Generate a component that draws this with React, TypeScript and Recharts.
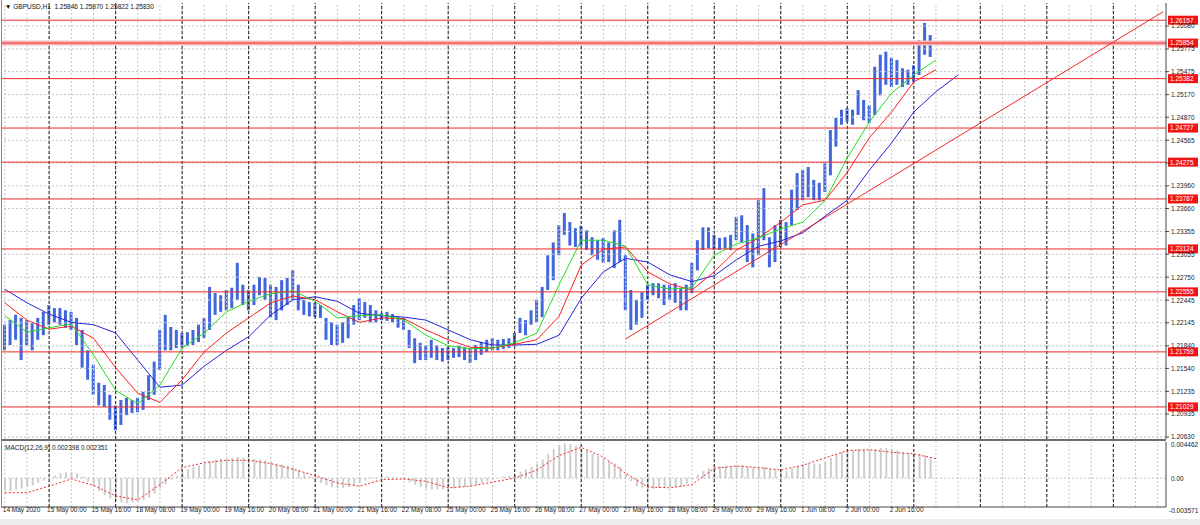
import React from 'react';
import { ComposedChart, Bar, Line, XAxis, YAxis, ReferenceLine } from 'recharts';

// H1 GBPUSD, one entry per 2-hour slot starting 14 May 2020 08:00
const barHighs = [
  1.2212, 1.2218, 1.2225, 1.2221, 1.2218, 1.2214, 1.2221, 1.2229, 1.2238, 1.2234,
  1.2234, 1.2231, 1.2229, 1.2221, 1.2205, 1.2178, 1.2159, 1.2135, 1.2132, 1.2119,
  1.2105, 1.2112, 1.2115, 1.2112, 1.2115, 1.2123, 1.2145, 1.2163, 1.2205, 1.2225,
  1.2209, 1.2205, 1.2201, 1.2202, 1.2205, 1.2212, 1.2221, 1.2262, 1.2254, 1.2251,
  1.2258, 1.2261, 1.2294, 1.2265, 1.2258, 1.2265, 1.2275, 1.2274, 1.2265, 1.2262,
  1.2271, 1.2274, 1.2284, 1.2265, 1.2245, 1.2242, 1.2241, 1.2238, 1.2221, 1.2215,
  1.2212, 1.2215, 1.2222, 1.2238, 1.2247, 1.2242, 1.2238, 1.2231, 1.2227, 1.2229,
  1.2226, 1.2222, 1.2221, 1.2205, 1.2194, 1.2188, 1.2185, 1.2192, 1.2185, 1.2181,
  1.2182, 1.2181, 1.2184, 1.2182, 1.2181, 1.2185, 1.2189, 1.2192, 1.2194, 1.2192,
  1.2193, 1.2194, 1.2201, 1.2221, 1.2218, 1.2231, 1.2245, 1.2262, 1.2304, 1.2321,
  1.2344, 1.2360, 1.2348, 1.2340, 1.2343, 1.2337, 1.2328, 1.2324, 1.2327, 1.2321,
  1.2337, 1.2351, 1.2304, 1.2258, 1.2245, 1.2255, 1.2265, 1.2267, 1.2267, 1.2265,
  1.2265, 1.2267, 1.2261, 1.2265, 1.2294, 1.2324, 1.2341, 1.2341, 1.2331, 1.2327,
  1.2328, 1.2331, 1.2355, 1.2357, 1.2344, 1.2333, 1.2377, 1.2393, 1.2328, 1.2344,
  1.2351, 1.2348, 1.2391, 1.2413, 1.2417, 1.2421, 1.2404, 1.2400, 1.2426, 1.2470,
  1.2486, 1.2497, 1.2499, 1.2497, 1.2523, 1.2510, 1.2503, 1.2554, 1.2570, 1.2574,
  1.2566, 1.2563, 1.2552, 1.2550, 1.2556, 1.2589, 1.2612, 1.2596,
];

const barLows = [
  1.2178, 1.2185, 1.2192, 1.2165, 1.2185, 1.2178, 1.2192, 1.2198, 1.2212, 1.2215,
  1.2212, 1.2208, 1.2205, 1.2185, 1.2155, 1.2139, 1.2119, 1.2105, 1.2103, 1.2086,
  1.2072, 1.2079, 1.2092, 1.2095, 1.2096, 1.2099, 1.2112, 1.2119, 1.2152, 1.2178,
  1.2178, 1.2181, 1.2182, 1.2184, 1.2185, 1.2189, 1.2194, 1.2205, 1.2225, 1.2229,
  1.2231, 1.2234, 1.2245, 1.2238, 1.2231, 1.2238, 1.2251, 1.2245, 1.2222, 1.2218,
  1.2231, 1.2238, 1.2245, 1.2231, 1.2225, 1.2223, 1.2222, 1.2221, 1.2192, 1.2185,
  1.2185, 1.2188, 1.2194, 1.2212, 1.2218, 1.2221, 1.2215, 1.2215, 1.2218, 1.2217,
  1.2215, 1.2208, 1.2205, 1.2181, 1.2161, 1.2165, 1.2165, 1.2168, 1.2165, 1.2163,
  1.2165, 1.2168, 1.2169, 1.2165, 1.2161, 1.2165, 1.2172, 1.2176, 1.2178, 1.2178,
  1.2180, 1.2181, 1.2185, 1.2201, 1.2198, 1.2212, 1.2215, 1.2222, 1.2258, 1.2271,
  1.2304, 1.2331, 1.2317, 1.2315, 1.2316, 1.2311, 1.2304, 1.2298, 1.2294, 1.2295,
  1.2287, 1.2295, 1.2231, 1.2205, 1.2212, 1.2221, 1.2245, 1.2251, 1.2247, 1.2238,
  1.2245, 1.2241, 1.2231, 1.2231, 1.2254, 1.2284, 1.2311, 1.2313, 1.2311, 1.2311,
  1.2313, 1.2311, 1.2324, 1.2321, 1.2295, 1.2288, 1.2304, 1.2324, 1.2288, 1.2295,
  1.2315, 1.2317, 1.2344, 1.2364, 1.2377, 1.2381, 1.2377, 1.2377, 1.2388, 1.2410,
  1.2448, 1.2477, 1.2481, 1.2477, 1.2490, 1.2483, 1.2479, 1.2490, 1.2516, 1.2530,
  1.2527, 1.2530, 1.2527, 1.2530, 1.2534, 1.2543, 1.2570, 1.2567,
];

// moving averages, one value every 4 slots
const lipsLine = [
  1.2224, 1.2202, 1.2208, 1.2213, 1.2172, 1.2125, 1.2107, 1.2132, 1.2181, 1.2201,
  1.2229, 1.2243, 1.2253, 1.2257, 1.2243, 1.2221, 1.2224, 1.2225, 1.2218, 1.2198,
  1.2184, 1.2180, 1.2181, 1.2188, 1.2201, 1.2265, 1.2324, 1.2324, 1.2316, 1.2265,
  1.2259, 1.2261, 1.2304, 1.2319, 1.2327, 1.2339, 1.2348, 1.2377, 1.2433, 1.2481,
  1.2519, 1.2543, 1.2563,
];
const teethLine = [
  1.2241, 1.2218, 1.2206, 1.2210, 1.2194, 1.2155, 1.2121, 1.2109, 1.2139, 1.2176,
  1.2201, 1.2221, 1.2241, 1.2250, 1.2245, 1.2229, 1.2215, 1.2221, 1.2220, 1.2205,
  1.2192, 1.2182, 1.2181, 1.2186, 1.2192, 1.2223, 1.2291, 1.2312, 1.2315, 1.2282,
  1.2266, 1.2258, 1.2282, 1.2311, 1.2327, 1.2348, 1.2371, 1.2377, 1.2414, 1.2460,
  1.2494, 1.2534, 1.2550,
];
const jawLine = [
  1.2259, 1.2241, 1.2226, 1.2215, 1.2212, 1.2201, 1.2165, 1.2129, 1.2132, 1.2157,
  1.2178, 1.2196, 1.2225, 1.2245, 1.2249, 1.2243, 1.2227, 1.2224, 1.2222, 1.2218,
  1.2205, 1.2192, 1.2185, 1.2185, 1.2186, 1.2198, 1.2247, 1.2282, 1.2300, 1.2295,
  1.2278, 1.2269, 1.2277, 1.2298, 1.2316, 1.2323, 1.2334, 1.2356, 1.2377, 1.2417,
  1.2453, 1.2494, 1.2521, 1.2543,
];

// MACD(12,26,9): main per slot, signal every 4 slots
const macdMain = [
  -0.0015, -0.0016, -0.0014, -0.0013, -0.0011, -0.0009, -0.0006, -0.0003,
  0.0000, 0.0003, 0.0006, 0.0007, 0.0008, 0.0006, 0.0002, -0.0004, -0.0010,
  -0.0016, -0.0021, -0.0025, -0.0028, -0.0030, -0.0031, -0.0030, -0.0029, -0.0027, -0.0024, -0.0019, -0.0013, -0.0007, -0.0002,
  0.0003, 0.0008, 0.0011, 0.0014, 0.0016, 0.0018, 0.0021, 0.0023, 0.0024, 0.0025, 0.0025, 0.0026, 0.0025, 0.0024, 0.0024, 0.0023, 0.0022, 0.0020, 0.0018, 0.0017, 0.0016, 0.0013,
  0.0010, 0.0006, 0.0002, -0.0002, -0.0006, -0.0009, -0.0011, -0.0012, -0.0012, -0.0011, -0.0009, -0.0006, -0.0003,
  -0.0001, 0.0001, 0.0002, 0.0002, 0.0001, 0.0000, -0.0002, -0.0005,
  -0.0008, -0.0011, -0.0013, -0.0014, -0.0014, -0.0014, -0.0013, -0.0013, -0.0012, -0.0011, -0.0010, -0.0008, -0.0006, -0.0004, -0.0002,
  0.0000, 0.0002, 0.0003, 0.0005, 0.0008, 0.0011, 0.0014, 0.0018,
  0.0023, 0.0030, 0.0036, 0.0041, 0.0043, 0.0042, 0.0040, 0.0037,
  0.0034, 0.0030, 0.0027, 0.0024, 0.0021, 0.0018, 0.0014, 0.0006,
  -0.0004, -0.0010, -0.0012, -0.0013, -0.0013, -0.0012, -0.0012, -0.0011, -0.0011, -0.0010, -0.0007, -0.0002,
  0.0004, 0.0009, 0.0012, 0.0014, 0.0015, 0.0015, 0.0015, 0.0016, 0.0016, 0.0014, 0.0013, 0.0013, 0.0014, 0.0011, 0.0010, 0.0010, 0.0009,
  0.0012, 0.0015, 0.0017, 0.0018, 0.0018, 0.0018, 0.0020, 0.0025, 0.0029, 0.0032, 0.0033, 0.0034, 0.0036, 0.0036, 0.0035, 0.0036, 0.0037,
  0.0037, 0.0036, 0.0034, 0.0032, 0.0031, 0.0030, 0.0030, 0.0028, 0.0024,
];
const macdSignal = [
  -0.0018, -0.0018, -0.0010, -0.0001, -0.0009, -0.0022, -0.0027, -0.0008, 0.0013, 0.0019,
  0.0022, 0.0022, 0.0018, 0.0011, 0.0003, -0.0006, -0.0010, -0.0002, -0.0001, -0.0004,
  -0.0012, -0.0010, -0.0005, 0.0000, 0.0010, 0.0028, 0.0038, 0.0026, 0.0006, -0.0011,
  -0.0012, -0.0008, 0.0012, 0.0015, 0.0013, 0.0010, 0.0016, 0.0025, 0.0034, 0.0035,
  0.0032, 0.0030, 0.0024,
];

const levelPrices = [1.26157, 1.25854, 1.25382, 1.24727, 1.24275, 1.23787, 1.23124, 1.22555, 1.21759, 1.21029];
const selectedLevel = 1.25854;

const priceTicks = [
  1.2063, 1.20935, 1.21235, 1.2154, 1.2184, 1.22145, 1.22445, 1.2275, 1.23055, 1.23355,
  1.2366, 1.2396, 1.24265, 1.24565, 1.2487, 1.2517, 1.25475, 1.25775, 1.2608,
];
const macdTicks = [-0.003571, 0, 0.004462];

const timeLabels = [
  '14 May 2020', '15 May 00:00', '15 May 16:00', '18 May 08:00', '19 May 00:00', '19 May 16:00',
  '20 May 08:00', '21 May 00:00', '21 May 16:00', '22 May 08:00', '25 May 00:00', '25 May 16:00',
  '26 May 08:00', '27 May 00:00', '27 May 16:00', '28 May 08:00', '29 May 00:00', '29 May 16:00',
  '1 Jun 08:00', '2 Jun 00:00', '2 Jun 16:00',
];
// slots where a new trading day starts (period separators)
const dayStarts = [8, 20, 32, 44, 56, 68, 80, 92, 104, 116, 128, 140, 152, 164, 176, 188, 200];
const trendFrom = { slot: 112, price: 1.2193 };
const trendTo = { slot: 209, price: 1.2627 };

const TOTAL_SLOTS = 210;
const MA_STEP = 4;
const LABEL_STEP = 8;
const FONT = "'Liberation Sans', Arial, sans-serif";

const rows = Array.from({ length: TOTAL_SLOTS }, (_, i) => ({
  slot: i,
  range: i < barHighs.length ? [barLows[i], barHighs[i]] : null,
  lips: i % MA_STEP === 0 ? lipsLine[i / MA_STEP] : undefined,
  teeth: i % MA_STEP === 0 ? teethLine[i / MA_STEP] : undefined,
  jaw: i % MA_STEP === 0 ? jawLine[i / MA_STEP] : undefined,
  macd: i < macdMain.length ? macdMain[i] : null,
  signal: i % MA_STEP === 0 ? macdSignal[i / MA_STEP] : undefined,
}));

const gridSlots = rows.filter((r) => r.slot % MA_STEP === 0).map((r) => r.slot);
const labelSlots = timeLabels.map((_, k) => k * LABEL_STEP);

const PriceTag = (props: any) => {
  const { viewBox, tagText } = props;
  if (!viewBox) return null;
  const x = viewBox.x + viewBox.width;
  const y = viewBox.y;
  return (
    <g>
      <rect x={x + 2} y={y - 4.5} width={30} height={9} fill="#f01414" />
      <text x={x + 4} y={y + 2.4} fontSize={6.5} fill="#fff" fontFamily={FONT}>{tagText}</text>
    </g>
  );
};

const PriceTick = (props: any) => {
  const { x, y, payload } = props;
  // labels sitting right under a level tag are hidden by it in the terminal
  const covered = levelPrices.some((p) => Math.abs(p - payload.value) < 0.0003);
  return (
    <g>
      <line x1={x - 3} x2={x} y1={y} y2={y} stroke="#444" />
      {!covered && (
        <text x={x + 2} y={y + 2.4} fontSize={6.5} fill="#222" fontFamily={FONT}>
          {payload.value.toFixed(5)}
        </text>
      )}
    </g>
  );
};

const MacdTick = (props: any) => {
  const { x, y, payload } = props;
  const v = payload.value;
  const dy = v > 0 ? 5 : v < 0 ? 6 : 2.4;
  return (
    <text x={x + (v < 0 ? 0 : 2)} y={y + dy} fontSize={6.5} fill="#222" fontFamily={FONT}>
      {v === 0 ? '0.00' : v.toFixed(6)}
    </text>
  );
};

const TimeTick = (props: any) => {
  const { x, y, payload } = props;
  return (
    <text x={x - 2} y={y + 1.5} fontSize={6.5} fill="#222" fontFamily={FONT}>
      {timeLabels[payload.value / LABEL_STEP]}
    </text>
  );
};

const gridLines = () => [
  ...gridSlots.map((s) => (
    <ReferenceLine key={'g' + s} x={s} stroke="#c4c4c4" strokeDasharray="2 2" />
  )),
  ...dayStarts.map((s) => (
    <ReferenceLine key={'d' + s} x={s} stroke="#1a1a1a" strokeDasharray="3 2" />
  )),
];

const App: React.FC = () => {
  return (
    <div style={{ position: 'absolute', left: 0, top: 0, width: 1200, height: 525, background: '#fff', fontFamily: FONT }}>
      {/* Price panel */}
      <div style={{ position: 'absolute', left: 0, top: 0 }}>
        <ComposedChart width={1200} height={441} data={rows} margin={{ top: 3, right: 0, bottom: 2, left: 2 }}>
          <XAxis dataKey="slot" type="category" hide />
          <YAxis
            orientation="right"
            width={34}
            domain={[1.20604, 1.26385]}
            allowDataOverflow
            ticks={priceTicks}
            interval={0}
            tick={<PriceTick />}
            tickSize={3}
            tickMargin={0}
            tickLine={false}
            axisLine={{ stroke: '#444' }}
          />
          {priceTicks.map((t) => (
            <ReferenceLine key={'h' + t} y={t} stroke="#c4c4c4" strokeDasharray="2 2" />
          ))}
          {gridLines()}
          <Bar dataKey="range" fill="#4267dc" barSize={3} isAnimationActive={false} />
          <Line dataKey="jaw" stroke="#2424d8" dot={false} strokeWidth={1} connectNulls isAnimationActive={false} />
          <Line dataKey="teeth" stroke="#ff1e1e" dot={false} strokeWidth={1} connectNulls isAnimationActive={false} />
          <Line dataKey="lips" stroke="#22dd22" dot={false} strokeWidth={1} connectNulls isAnimationActive={false} />
          <ReferenceLine y={selectedLevel} stroke="#f5b8b8" strokeWidth={5} />
          {levelPrices.map((p) => (
            <ReferenceLine
              key={'l' + p}
              y={p}
              stroke="#f02828"
              strokeWidth={1}
              label={<PriceTag tagText={p.toFixed(5)} />}
            />
          ))}
          <ReferenceLine
            segment={[{ x: trendFrom.slot, y: trendFrom.price }, { x: trendTo.slot, y: trendTo.price }]}
            stroke="#f02828"
            strokeWidth={1}
          />
        </ComposedChart>
      </div>

      {/* MACD panel */}
      <div style={{ position: 'absolute', left: 0, top: 441 }}>
        <ComposedChart width={1200} height={77} data={rows} margin={{ top: 1, right: 0, bottom: 0, left: 2 }}>
          <XAxis
            dataKey="slot"
            type="category"
            height={11}
            ticks={labelSlots}
            interval={0}
            tick={<TimeTick />}
            tickSize={3}
            tickMargin={0}
            tickLine={false}
            axisLine={{ stroke: '#444' }}
          />
          <YAxis
            orientation="right"
            width={34}
            domain={[-0.003571, 0.004462]}
            allowDataOverflow
            ticks={macdTicks}
            interval={0}
            tick={<MacdTick />}
            tickSize={3}
            tickMargin={0}
            tickLine={false}
            axisLine={{ stroke: '#444' }}
          />
          <ReferenceLine y={0} stroke="#c4c4c4" strokeDasharray="2 2" />
          {gridLines()}
          <Bar dataKey="macd" fill="#cdcdcd" barSize={2} isAnimationActive={false} />
          <Line dataKey="signal" stroke="#f02828" strokeDasharray="2 2" dot={false} strokeWidth={1} connectNulls isAnimationActive={false} />
        </ComposedChart>
      </div>

      {/* frame and captions */}
      <div style={{ position: 'absolute', left: 2, top: 439, width: 1164, height: 2, background: '#6e6e6e' }} />
      <div style={{ position: 'absolute', left: 1, top: 0, width: 1, height: 508, background: '#8a8a8a' }} />
      <div style={{ position: 'absolute', left: 0, top: 519, width: 1200, height: 6, background: '#ececec' }} />
      <div style={{ position: 'absolute', left: 5, top: 3, fontSize: 6.5, color: '#111', whiteSpace: 'pre' }}>
        {'\u25BC GBPUSD,H1  1.25846 1.25870 1.25822 1.25830'}
      </div>
      <div style={{ position: 'absolute', left: 5, top: 444, fontSize: 6.5, color: '#222', whiteSpace: 'pre' }}>
        {'MACD(12,26,9) 0.002398 0.002351'}
      </div>
    </div>
  );
};

export default App;
